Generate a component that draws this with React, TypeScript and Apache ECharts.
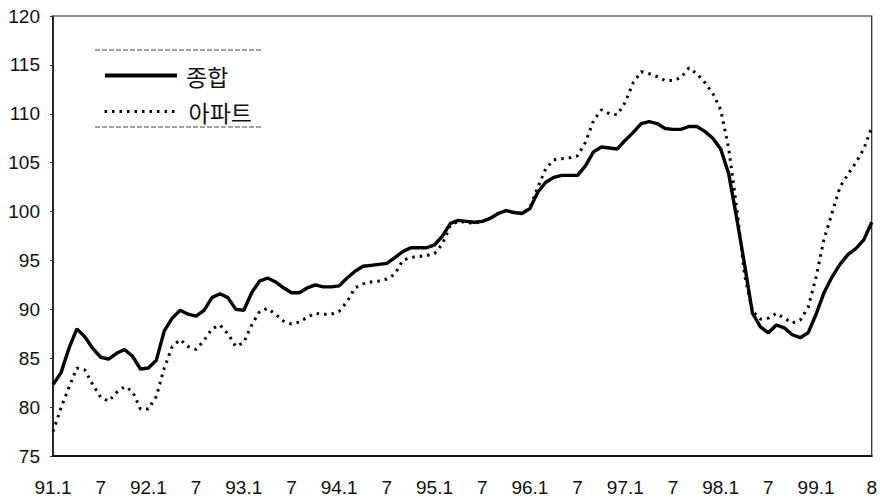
import React, { useEffect, useRef } from "react";
import * as echarts from "echarts";

const years = [91, 92, 93, 94, 95, 96, 97, 98, 99];
const lastMonth = 8; // data ends at 99.8

const categories: string[] = [];
years.forEach((y) => {
  const maxM = y === 99 ? lastMonth : 12;
  for (let m = 1; m <= maxM; m++) categories.push(`${y}.${m}`);
});

const tickIndices = [0, 6, 12, 18, 24, 30, 36, 42, 48, 54, 60, 66, 72, 78, 84, 90, 96, 103];

const composite = [
  82.3, 83.5, 86.0, 88.0, 87.2, 86.0, 85.1, 84.9, 85.5, 85.9, 85.2, 83.9,
  84.0, 84.8, 87.8, 89.1, 89.9, 89.5, 89.3, 89.9, 91.2, 91.6, 91.2, 90.0,
  89.9, 91.7, 92.9, 93.2, 92.8, 92.2, 91.7, 91.7, 92.2, 92.5, 92.3, 92.3,
  92.4, 93.2, 93.9, 94.4, 94.5, 94.6, 94.7, 95.3, 95.9, 96.3, 96.3, 96.3,
  96.6, 97.5, 98.8, 99.1, 99.0, 98.9, 99.0, 99.3, 99.8, 100.1, 99.9, 99.8,
  100.3, 102.0, 103.0, 103.5, 103.7, 103.7, 103.7, 104.7, 106.1, 106.6, 106.5, 106.4,
  107.3, 108.1, 109.0, 109.2, 109.0, 108.5, 108.4, 108.4, 108.7, 108.7, 108.2, 107.5,
  106.4, 103.9, 99.4, 94.6, 89.6, 88.2, 87.6, 88.4, 88.1, 87.4, 87.1, 87.6,
  89.5, 91.7, 93.3, 94.6, 95.6, 96.2, 97.1, 98.9,
];

const apartment = [
  77.5, 79.9, 82.0, 84.0, 83.8, 82.3, 81.0, 80.6, 81.5, 82.1, 81.6, 79.8,
  79.8, 81.1, 84.0, 86.2, 86.9, 86.2, 85.9, 86.8, 88.0, 88.4, 87.5, 86.2,
  86.6, 88.4, 89.8, 90.1, 89.5, 88.8, 88.5, 88.7, 89.2, 89.6, 89.5, 89.5,
  89.8, 90.8, 92.2, 92.6, 92.8, 92.9, 93.1, 93.6, 95.0, 95.3, 95.4, 95.5,
  95.7, 96.7, 98.6, 99.0, 98.9, 98.8, 99.0, 99.3, 99.8, 100.1, 99.9, 99.8,
  100.4, 102.5, 104.4, 105.3, 105.4, 105.5, 105.7, 107.1, 109.3, 110.4, 110.0, 109.9,
  111.2, 113.2, 114.3, 114.1, 113.8, 113.4, 113.4, 113.7, 114.7, 114.1, 113.2, 112.1,
  110.4, 106.5, 100.5, 93.5, 89.8, 89.0, 89.1, 89.6, 89.1, 88.6, 88.9, 90.2,
  93.3, 97.2, 99.8, 102.5, 103.8, 105.0, 106.4, 108.6,
];

const seriesNames = ["종합", "아파트"];

export default function App() {
  const ref = useRef<HTMLDivElement>(null);
  useEffect(() => {
    if (!ref.current) return;
    const chart = echarts.init(ref.current, null, { renderer: "svg" });
    const font = "'Liberation Sans', Arial, sans-serif";
    const legendText = {
      fontSize: 23,
      color: "#111",
      fontFamily: "'Noto Sans CJK KR', sans-serif",
      padding: [0, 0, 0, 4],
    };
    const hiddenSymbol = { color: "rgba(0,0,0,0)", borderWidth: 0, opacity: 0 };
    chart.setOption({
      animation: false,
      backgroundColor: "#ffffff",
      textStyle: { fontFamily: font },
      grid: {
        left: 53,
        right: 3,
        top: 16,
        bottom: 48,
        show: true,
        borderColor: "#222",
        borderWidth: 1.2,
        backgroundColor: "transparent",
      },
      legend: [
        {
          left: 103,
          top: 64,
          itemWidth: 72,
          itemHeight: 12,
          padding: 0,
          data: [seriesNames[0]],
          itemStyle: hiddenSymbol,
          lineStyle: { width: 4 },
          textStyle: legendText,
        },
        {
          left: 103,
          top: 100,
          itemWidth: 75,
          itemHeight: 12,
          padding: 0,
          data: [seriesNames[1]],
          itemStyle: hiddenSymbol,
          lineStyle: { width: 3 },
          textStyle: legendText,
        },
      ],
      graphic: [
        {
          type: "line",
          shape: { x1: 95, y1: 50, x2: 262, y2: 50 },
          style: { stroke: "#444", lineWidth: 1, lineDash: [5, 2] },
        },
        {
          type: "line",
          shape: { x1: 95, y1: 127, x2: 262, y2: 127 },
          style: { stroke: "#444", lineWidth: 1, lineDash: [5, 2] },
        },
      ],
      xAxis: {
        type: "category",
        data: categories,
        boundaryGap: false,
        axisLine: { lineStyle: { color: "#111", width: 2 } },
        axisTick: { show: false },
        splitLine: { show: false },
        axisLabel: {
          interval: (index: number) => tickIndices.includes(index),
          formatter: (value: string) => {
            const [y, m] = value.split(".");
            return m === "1" ? `${y}.1` : m;
          },
          fontSize: 19,
          color: "#111",
          margin: 22,
          fontFamily: font,
        },
      },
      yAxis: {
        type: "value",
        min: 75,
        max: 120,
        interval: 5,
        axisLine: { show: true, lineStyle: { color: "#111", width: 1.5 } },
        axisTick: { show: true, length: 3, lineStyle: { color: "#333" } },
        splitLine: { show: false },
        axisLabel: {
          fontSize: 19,
          color: "#111",
          margin: 13,
          fontFamily: font,
        },
      },
      series: [
        {
          name: seriesNames[0],
          type: "line",
          data: composite,
          symbol: "none",
          showSymbol: false,
          lineStyle: { color: "#000", width: 3.4, type: "solid" },
          itemStyle: { color: "#000" },
        },
        {
          name: seriesNames[1],
          type: "line",
          data: apartment,
          symbol: "none",
          showSymbol: false,
          lineStyle: { color: "#000", width: 3, type: [2.5, 5] },
          itemStyle: { color: "#000" },
        },
      ],
    });
    return () => chart.dispose();
  }, []);
  return (
    <div
      ref={ref}
      style={{ position: "fixed", left: 0, top: 0, width: 880, height: 504 }}
    />
  );
}
